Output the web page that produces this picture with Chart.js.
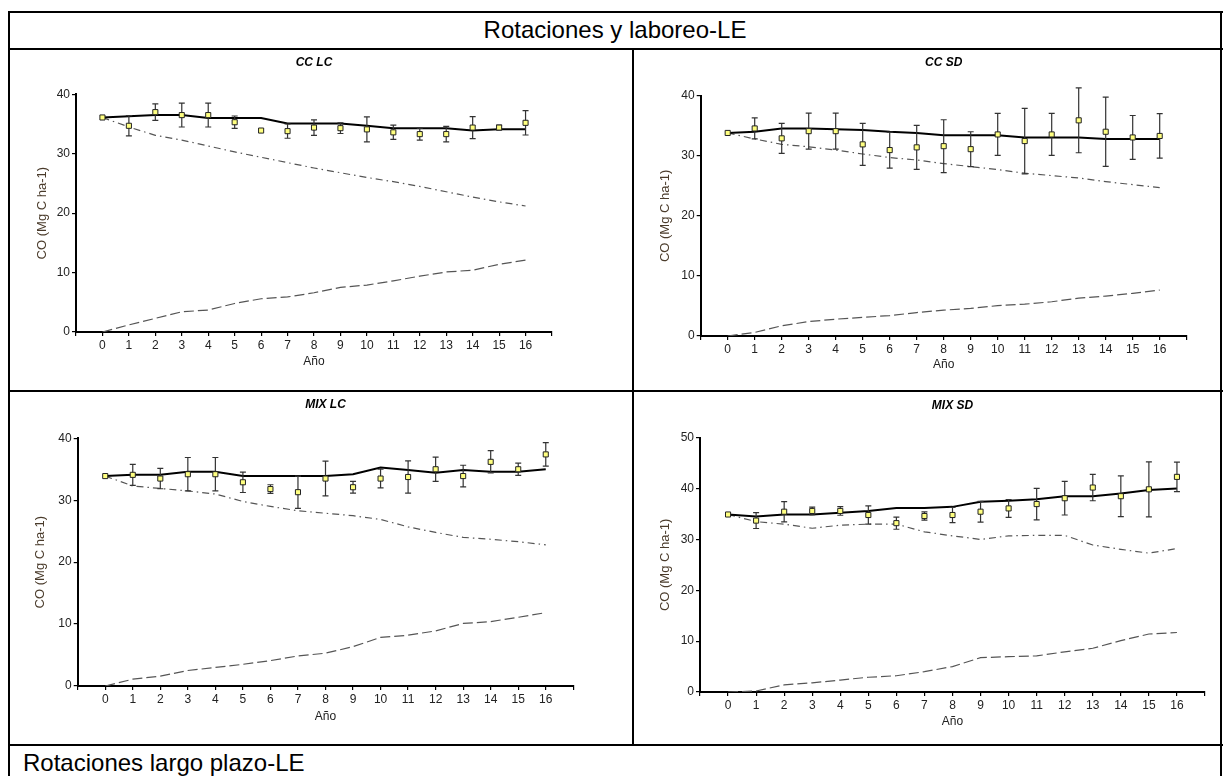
<!DOCTYPE html>
<html lang="es">
<head>
<meta charset="utf-8">
<title>Rotaciones y laboreo-LE</title>
<script src="https://cdn.jsdelivr.net/npm/chart.js@4.4.1/dist/chart.umd.min.js"></script>
<style>
  html, body { margin: 0; padding: 0; background: #fff; }
  body { width: 1225px; height: 776px; position: relative; overflow: hidden;
         font-family: Arial, "Liberation Sans", sans-serif; }
  .rule { position: absolute; background: #000; }
  .cell-text { position: absolute; font-size: 24px; line-height: 24px; color: #000; white-space: nowrap; }
  canvas { position: absolute; }
</style>
</head>
<body>
<!-- bordes de la tabla -->
<div class="rule" style="left:8px;top:11px;width:1215px;height:2px"></div>
<div class="rule" style="left:8px;top:48px;width:1215px;height:2px"></div>
<div class="rule" style="left:8px;top:390px;width:1215px;height:2px"></div>
<div class="rule" style="left:8px;top:744px;width:1215px;height:2px"></div>
<div class="rule" style="left:8px;top:11px;width:2px;height:765px"></div>
<div class="rule" style="left:632px;top:48px;width:2px;height:698px"></div>
<div class="rule" style="left:1220px;top:11px;width:2px;height:765px"></div>

<div class="cell-text" style="left:9px;width:1212px;top:18px;text-align:center">Rotaciones y laboreo-LE</div>
<div class="cell-text" style="left:23px;top:751px">Rotaciones largo plazo-LE</div>

<script>
// ------------------------------------------------------------
//  Datos: CO observado (± error), CO total
//  simulado, CO inicial remanente (punto-raya) y CO nuevo (rayas)
// ------------------------------------------------------------
const YEARS = [0, 1, 2, 3, 4, 5, 6, 7, 8, 9, 10, 11, 12, 13, 14, 15, 16];

// CC LC
const ccLcObs   = [36.1, 34.7, 37.0, 36.5, 36.5, 35.3, 33.9, 33.8, 34.4, 34.3, 34.1, 33.6, 33.3, 33.3, 34.4, 34.4, 35.2];
const ccLcErr   = [0, 1.7, 1.4, 2.0, 2.0, 1.05, 0, 1.2, 1.3, 0.9, 2.1, 1.2, 1.0, 1.3, 1.85, 0.4, 2.05];
const ccLcTotal = [36.1, 36.3, 36.5, 36.5, 36.0, 36.0, 36.0, 35.1, 35.1, 35.1, 34.7, 34.3, 34.3, 34.3, 33.9, 34.1, 34.1];
const ccLcOld   = [36.1, 34.5, 33.1, 32.3, 31.3, 30.3, 29.4, 28.5, 27.6, 26.8, 26.0, 25.3, 24.5, 23.6, 22.7, 21.9, 21.2];
const ccLcNew   = [0, 1.2, 2.3, 3.4, 3.7, 4.8, 5.6, 5.9, 6.6, 7.5, 7.9, 8.6, 9.4, 10.1, 10.4, 11.4, 12.1];

// CC SD
const ccSdObs   = [33.8, 34.55, 32.9, 34.1, 34.1, 31.9, 30.95, 31.4, 31.6, 31.1, 33.55, 32.45, 33.55, 35.9, 34.0, 33.05, 33.3];
const ccSdErr   = [0, 1.75, 2.5, 3.0, 3.0, 3.5, 3.0, 3.65, 4.4, 2.9, 3.5, 5.45, 3.5, 5.4, 5.75, 3.65, 3.7];
const ccSdTotal = [33.8, 34.0, 34.55, 34.55, 34.4, 34.3, 34.0, 33.8, 33.4, 33.4, 33.4, 33.05, 33.05, 33.05, 32.8, 32.8, 32.8];
const ccSdOld   = [33.8, 32.8, 31.9, 31.5, 30.95, 30.3, 29.7, 29.3, 28.7, 28.2, 27.7, 27.1, 26.7, 26.3, 25.7, 25.2, 24.7];
const ccSdNew   = [0, 0.6, 1.7, 2.4, 2.8, 3.1, 3.4, 3.9, 4.3, 4.6, 5.05, 5.3, 5.7, 6.3, 6.65, 7.1, 7.65];

// MIX LC
const mixLcObs   = [33.9, 34.1, 33.5, 34.2, 34.2, 32.9, 31.8, 31.3, 33.5, 32.1, 33.5, 33.75, 35.0, 33.9, 36.2, 35.0, 37.4];
const mixLcErr   = [0, 1.7, 1.65, 2.7, 2.7, 1.65, 0.7, 2.6, 2.8, 0.95, 1.5, 2.6, 1.95, 1.75, 1.8, 1.0, 1.9];
const mixLcTotal = [33.9, 34.1, 34.1, 34.6, 34.6, 33.9, 33.9, 33.9, 33.9, 34.2, 35.3, 34.9, 34.45, 34.9, 34.6, 34.6, 35.0];
const mixLcOld   = [33.9, 32.3, 31.9, 31.5, 31.0, 29.8, 29.0, 28.3, 27.9, 27.5, 26.9, 25.7, 24.8, 24.0, 23.7, 23.3, 22.8];
const mixLcNew   = [0, 1.1, 1.6, 2.5, 3.0, 3.5, 4.1, 4.85, 5.3, 6.35, 7.85, 8.2, 8.9, 10.1, 10.4, 11.1, 11.85];

// MIX SD
const mixSdObs   = [34.9, 33.7, 35.45, 35.6, 35.6, 34.8, 33.2, 34.6, 34.8, 35.45, 36.1, 36.95, 38.1, 40.2, 38.5, 39.85, 42.3];
const mixSdErr   = [0, 1.55, 2.0, 0.75, 0.85, 1.8, 1.2, 0.8, 1.5, 2.05, 1.75, 3.1, 3.3, 2.6, 4.0, 5.4, 2.9];
const mixSdTotal = [34.9, 34.5, 34.9, 34.9, 35.25, 35.6, 36.2, 36.2, 36.4, 37.4, 37.6, 37.9, 38.5, 38.5, 39.05, 39.7, 40.0];
const mixSdOld   = [34.9, 33.5, 33.0, 32.2, 32.8, 33.0, 33.0, 31.5, 30.7, 30.0, 30.7, 30.8, 30.8, 28.9, 28.05, 27.3, 28.2];
const mixSdNew   = [0, 0.2, 1.4, 1.8, 2.35, 2.9, 3.2, 4.0, 5.0, 6.75, 6.95, 7.1, 7.9, 8.6, 10.1, 11.4, 11.7];

const PANELS = [
  { title: "CC LC",  yMax: 40, obs: ccLcObs,  err: ccLcErr,  total: ccLcTotal,  old: ccLcOld,  nuevo: ccLcNew },
  { title: "CC SD",  yMax: 40, obs: ccSdObs,  err: ccSdErr,  total: ccSdTotal,  old: ccSdOld,  nuevo: ccSdNew },
  { title: "MIX LC", yMax: 40, obs: mixLcObs, err: mixLcErr, total: mixLcTotal, old: mixLcOld, nuevo: mixLcNew },
  { title: "MIX SD", yMax: 50, obs: mixSdObs, err: mixSdErr, total: mixSdTotal, old: mixSdOld, nuevo: mixSdNew }
];

// Posición de cada celda y de su área de trazado (px de página)
const LAYOUT = [
  { cell: [9, 49, 624, 342],   area: [76, 94.3, 552, 332],     titleY: 62.7,  yTitleX: 42,  xTitleY: 361.7 },
  { cell: [633, 49, 588, 342], area: [700.7, 95.7, 1186.7, 336], titleY: 62.7, yTitleX: 665, xTitleY: 365 },
  { cell: [9, 391, 624, 354],  area: [77.7, 438.3, 573.3, 686], titleY: 405,   yTitleX: 40,  xTitleY: 717 },
  { cell: [633, 391, 588, 354], area: [700, 437.7, 1205, 692],  titleY: 405.7, yTitleX: 665, xTitleY: 721.7 }
];

const FONT = 'Arial, "Liberation Sans", sans-serif';
Chart.defaults.font.family = FONT;

// Barras de error dibujadas justo antes de los cuadrados observados
const errorBars = {
  id: "errorBars",
  beforeDatasetDraw(chart, args) {
    const ds = chart.data.datasets[args.index];
    if (!ds.errors) return;
    const { ctx, scales: { x, y } } = chart;
    ctx.save();
    ctx.strokeStyle = "#333";
    ctx.lineWidth = 1.2;
    ds.data.forEach((p, i) => {
      const e = ds.errors[i];
      if (!e) return;
      const px = x.getPixelForValue(p.x);
      const top = y.getPixelForValue(p.y + e);
      const bot = y.getPixelForValue(p.y - e);
      ctx.beginPath();
      ctx.moveTo(px, top); ctx.lineTo(px, bot);
      ctx.moveTo(px - 3, top); ctx.lineTo(px + 3, top);
      ctx.moveTo(px - 3, bot); ctx.lineTo(px + 3, bot);
      ctx.stroke();
    });
    ctx.restore();
  }
};

const pts = arr => YEARS.map((x, i) => ({ x, y: arr[i] }));

function makePanel(p, box) {
  const [cx, cy, cw, ch] = box.cell;
  const [al, at, ar, ab] = box.area;
  const canvas = document.createElement("canvas");
  canvas.width = cw;
  canvas.height = ch;
  canvas.style.left = cx + "px";
  canvas.style.top = cy + "px";
  document.body.appendChild(canvas);

  const YW = 50, XH = 45;
  const titleLH = 12 * 1.2, yTitleLH = 13 * 1.2, xTitleLH = 12 * 1.2;
  const titlePadTop = box.titleY - cy - titleLH / 2;
  const titlePadBottom = at - cy - titlePadTop - titleLH;

  const axisGrid = { drawOnChartArea: false, drawTicks: true, tickLength: 4, color: "#000", lineWidth: 1.2 };
  const axisBorder = { display: true, color: "#000", width: 2 };
  const tickFont = { size: 12 };

  new Chart(canvas, {
    type: "line",
    data: {
      datasets: [
        {
          label: "Observado",
          data: pts(p.obs),
          errors: p.err,
          showLine: false,
          pointStyle: "rect",
          pointRadius: 3.6,
          pointBackgroundColor: "#ffff80",
          pointBorderColor: "#222",
          pointBorderWidth: 1
        },
        {
          label: "Simulado",
          data: pts(p.total),
          borderColor: "#000",
          borderWidth: 2,
          pointRadius: 0,
          tension: 0
        },
        {
          label: "CO inicial",
          data: pts(p.old),
          borderColor: "#555",
          borderWidth: 1.2,
          borderDash: [7, 4, 1.5, 4],
          pointRadius: 0,
          tension: 0
        },
        {
          label: "CO nuevo",
          data: pts(p.nuevo),
          borderColor: "#555",
          borderWidth: 1.2,
          borderDash: [10, 4],
          pointRadius: 0,
          tension: 0
        }
      ]
    },
    options: {
      responsive: false,
      animation: false,
      layout: {
        padding: { left: al - cx - YW, right: cx + cw - ar, top: 0, bottom: cy + ch - ab - XH }
      },
      plugins: {
        legend: { display: false },
        tooltip: { enabled: false },
        title: {
          display: true,
          text: p.title,
          fullSize: false,
          color: "#000",
          font: { size: 12, weight: "bold", style: "italic" },
          padding: { top: titlePadTop, bottom: titlePadBottom }
        }
      },
      scales: {
        x: {
          type: "linear",
          min: -1,
          max: 17,
          afterFit: s => { s.height = XH; },
          grid: axisGrid,
          border: axisBorder,
          ticks: {
            stepSize: 1,
            autoSkip: false,
            maxRotation: 0,
            padding: 2,
            color: "#222",
            font: tickFont,
            callback: v => (v < 0 || v > 16) ? "" : v
          },
          title: {
            display: true,
            text: "Año",
            color: "#222",
            font: { size: 12 },
            padding: { top: 0, bottom: ab + XH - box.xTitleY - xTitleLH / 2 }
          }
        },
        y: {
          min: 0,
          max: p.yMax,
          afterFit: s => { s.width = YW; },
          grid: axisGrid,
          border: axisBorder,
          ticks: { stepSize: 10, padding: 2, color: "#222", font: tickFont },
          title: {
            display: true,
            text: "CO (Mg C ha-1)",
            color: "#4a3b2b",
            font: { size: 13 },
            padding: { top: box.yTitleX - al + YW - yTitleLH / 2, bottom: 0 }
          }
        }
      }
    },
    plugins: [errorBars]
  });
}

PANELS.forEach((p, i) => makePanel(p, LAYOUT[i]));
</script>
</body>
</html>
